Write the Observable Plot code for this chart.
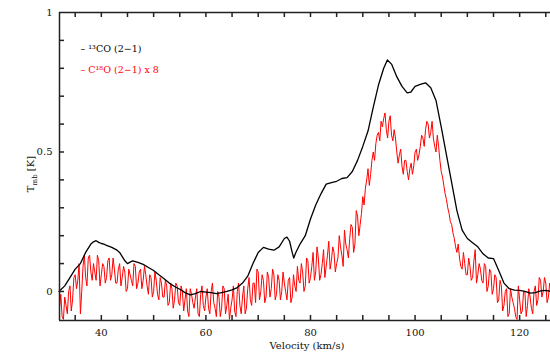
<!DOCTYPE html>
<html><head><meta charset="utf-8">
<script src="https://cdn.jsdelivr.net/npm/d3@7"></script>
<script src="https://cdn.jsdelivr.net/npm/@observablehq/plot@0.6"></script>
<style>body{margin:0;background:#fff;}</style>
</head><body><div id="chart"></div>
<script>
// 13CO (2-1) spectrum: velocity (km/s) and T_mb (K)
const co13V = [31.9,33,34,35,36,37,38,38.5,39,39.5,40,40.5,41,42,43,43.5,44,44.5,45,45.5,46,46.5,47,48,49,50,51,52,53,54,55,56,57,58,59,60,61,62,63,64,65,66,67,68,69,70,71,72,73,74,75,75.5,76,76.5,76.8,77.2,78,79,80,81,82,83,84,85,86,87,88,89,90,91,92,93,94,94.7,95.5,96.5,97.5,98.5,99.2,100,101,102,103,104,105,106,107,108,109,110,111,112,113,114,115,116,117,118,119,120,121,122,123,124,125,126];
const co13T = [0.0,0.02,0.05,0.08,0.10,0.14,0.17,0.178,0.182,0.176,0.172,0.17,0.165,0.158,0.148,0.14,0.125,0.11,0.10,0.105,0.11,0.107,0.104,0.097,0.086,0.075,0.06,0.046,0.03,0.018,0.008,-0.004,-0.012,-0.008,0.0,-0.002,-0.004,-0.008,-0.004,0.0,0.006,0.014,0.03,0.055,0.10,0.14,0.158,0.152,0.148,0.16,0.19,0.195,0.18,0.14,0.12,0.14,0.17,0.20,0.26,0.31,0.35,0.385,0.39,0.395,0.405,0.408,0.43,0.47,0.52,0.575,0.66,0.74,0.80,0.83,0.815,0.77,0.735,0.712,0.715,0.735,0.742,0.748,0.73,0.685,0.59,0.49,0.39,0.29,0.22,0.19,0.175,0.16,0.135,0.12,0.118,0.075,0.03,0.01,0.005,0.004,0.0,-0.006,-0.004,0.002,0.004,0.0];

// C18O (2-1) x 8 spectrum: channels at 32.0, 32.5, ... km/s
const c18oStartA = 32, c18oStep = 0.5;
const c18oTA = [-0.06,-0.09,-0.02,-0.08,0.02,-0.03,0.06,0.04,-0.08,0.09,0.05,0.12,0.07,0.10,0.04,0.11,0.06,0.09,0.05,0.12,0.06,0.08,0.03,0.10,0.05,0.07,0.01,0.06,0.02,0.09,0.03,0.08,0.04,0.06,-0.01,0.05,0.0,0.04,-0.03,0.03,-0.02,0.02,-0.04,0.01,-0.03,0.02,-0.05,0.0,-0.03,-0.07,0.01,-0.04,-0.02,-0.08,-0.01,-0.05,-0.02,-0.06,0.0,-0.04,-0.09,-0.02,-0.06,0.01,-0.05,-0.10,-0.03,-0.07,0.0,-0.05,-0.02,-0.08,0.01,-0.03,0.03,-0.04,0.07,0.0,0.04,-0.02,0.05,0.01,0.06,-0.01,0.04,0.0,0.03,-0.03,0.05,-0.02,0.02,0.09,0.03,0.07,0.02,0.11,0.05,0.14,0.07,0.12,0.06,0.15,0.09,0.18,0.11,0.14,0.10,0.20,0.13,0.22,0.15,0.19,0.23,0.17,0.27,0.24,0.34,0.37,0.44,0.42,0.50,0.53,0.57,0.61,0.62,0.58,0.61,0.56,0.58,0.50,0.49,0.45,0.47,0.43,0.44,0.42,0.50,0.47,0.52,0.55,0.58,0.60,0.57,0.55,0.50,0.52,0.43,0.38,0.33,0.28,0.24,0.19,0.14,0.12,0.08,0.10,0.06,0.09,0.05,0.15,0.06,0.08,0.03,0.09,0.02,0.07,0.01,0.05,-0.03,0.02,-0.05,0.01,-0.08,-0.02,-0.06,-0.10,-0.03,-0.07,0.0,-0.05,-0.02,-0.08,0.02,-0.03,0.04,0.0,0.03,-0.02,0.01];
// C18O (2-1) x 8 spectrum: channels at 32.25, 32.75, ... km/s
const c18oStartB = 32.25;
const c18oTB = [-0.01,-0.10,-0.05,0.0,-0.07,0.05,0.01,0.10,0.0,0.13,
  0.02,0.13,0.04,0.07,0.13,0.02,0.10,0.03,0.11,0.04,
  0.12,0.03,0.08,0.02,0.09,0.0,0.08,0.04,0.10,0.01,
  0.07,0.01,0.09,0.02,0.06,-0.02,0.07,-0.01,0.05,-0.02,
  0.04,-0.05,0.03,-0.06,0.03,-0.04,0.02,-0.07,0.01,-0.09,
  -0.01,-0.06,0.01,-0.09,0.02,-0.07,0.01,-0.08,0.03,-0.06,
  0.0,-0.09,0.02,-0.08,-0.01,-0.06,0.02,-0.09,0.03,-0.08,
  0.02,-0.06,0.05,-0.05,0.03,0.08,-0.03,0.06,-0.04,0.07,
  -0.02,0.08,-0.03,0.06,-0.03,0.07,0.0,0.04,-0.04,0.06,
  0.0,0.04,0.10,0.0,0.12,0.03,0.09,0.04,0.16,0.04,
  0.10,0.05,0.13,0.08,0.16,0.07,0.12,0.16,0.09,0.17,
  0.12,0.24,0.14,0.29,0.20,0.28,0.31,0.40,0.38,0.47,
  0.47,0.56,0.54,0.59,0.64,0.55,0.63,0.54,0.55,0.46,
  0.51,0.42,0.47,0.40,0.46,0.45,0.51,0.49,0.56,0.52,
  0.61,0.55,0.61,0.52,0.56,0.47,0.41,0.35,0.30,0.25,
  0.21,0.16,0.17,0.09,0.14,0.06,0.12,0.04,0.11,0.03,
  0.10,0.04,0.10,0.0,0.08,-0.01,0.06,-0.04,0.04,-0.07,
  0.0,-0.09,0.01,-0.04,-0.09,0.02,-0.08,0.0,-0.09,0.01,
  -0.06,0.0,-0.05,0.05,-0.02,0.05,-0.04,0.03];

const xDomain = [32, 125.9];
const yDomain = [-0.104, 1.0];
const xTickLabels = [40, 60, 80, 100, 120];
const xMinorTicks = [35,40,45,50,55,60,65,70,75,80,85,90,95,100,105,110,115,120,125];
const yTickValues = [0, 0.5, 1];
const yTickText = ["0", "0.5", "1"];
const yMinorTicks = [0,0.1,0.2,0.3,0.4,0.5,0.6,0.7,0.8,0.9];
const legendLabels = ["– ¹³CO (2−1)", "– C¹⁸O (2−1) x 8"];
const legendColors = ["#000", "#f00"];

const co13 = co13V.map((v, i) => ({v, t: co13T[i]}));
const c18o = c18oTA.map((t, i) => ({v: c18oStartA + i * c18oStep, t}))
  .concat(c18oTB.map((t, i) => ({v: c18oStartB + i * c18oStep, t})))
  .sort((a, b) => a.v - b.v);

const plot = Plot.plot({
  width: 550, height: 353,
  marginLeft: 59, marginRight: 0, marginTop: 12, marginBottom: 33,
  x: {domain: xDomain},
  y: {domain: yDomain},
  style: {fontFamily: "DejaVu Serif", fontSize: "10px", color: "#111", background: "#fff"},
  marks: [
    Plot.line(c18o, {x: "v", y: "t", stroke: "#f00", strokeWidth: 1}),
    Plot.line(co13, {x: "v", y: "t", stroke: "#000", strokeWidth: 1.3}),
    Plot.ruleX(xDomain.slice(0, 1), {x: d => d, stroke: "#222", strokeWidth: 1.5}),
    Plot.ruleY(yDomain, {y: d => d, stroke: "#222", strokeWidth: 1.5}),
    Plot.tickX(xMinorTicks, {x: d => d, insetTop: 303, stroke: "#222", strokeWidth: 1.5}),
    Plot.tickX(xMinorTicks, {x: d => d, insetBottom: 303, stroke: "#222", strokeWidth: 1.5}),
    Plot.tickY(yMinorTicks, {y: d => d, insetRight: 486, stroke: "#222", strokeWidth: 1.5}),
    Plot.axisX({ticks: xTickLabels, tickSize: 0, tickPadding: 8, label: null}),
    Plot.axisY({ticks: yTickValues, tickSize: 0, tickPadding: 7, label: null,
      tickFormat: d => yTickText[yTickValues.indexOf(d)]}),
    Plot.text(["Velocity (km/s)"], {frameAnchor: "bottom", dx: 2, dy: 28, lineAnchor: "bottom", fontSize: 10}),
    Plot.text([legendLabels[0]], {frameAnchor: "top-left", dx: 21, dy: 33, textAnchor: "start", fill: legendColors[0], fontSize: 9.5}),
    Plot.text([legendLabels[1]], {frameAnchor: "top-left", dx: 21, dy: 54, textAnchor: "start", fill: legendColors[1], fontSize: 9.5})
  ]
});
const svg = d3.select(plot);
const yl = svg.append("text")
  .attr("transform", "translate(34,174) rotate(-90)")
  .attr("text-anchor", "middle")
  .attr("font-family", "DejaVu Serif")
  .attr("font-size", 10)
  .attr("fill", "#111");
yl.append("tspan").text("T");
yl.append("tspan").attr("dy", 3).attr("font-size", 7).text("mb");
yl.append("tspan").attr("dy", -3).text(" [K]");
document.getElementById("chart").appendChild(plot);
</script>
</body></html>
